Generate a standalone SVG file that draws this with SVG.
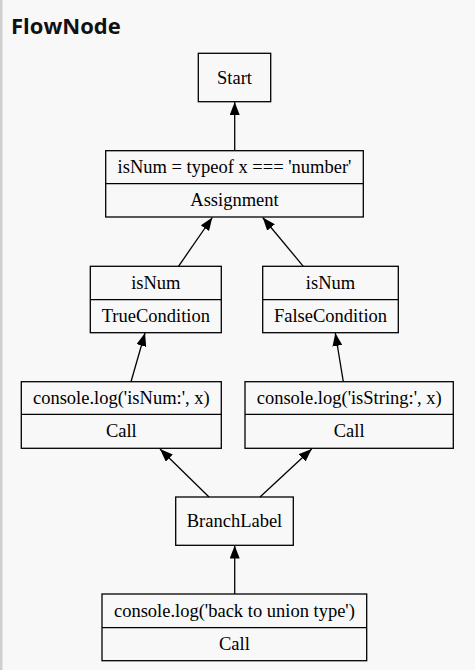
<svg xmlns="http://www.w3.org/2000/svg" width="475" height="670" viewBox="0 0 475 670">
<style>
.bg{fill:#f8f8f8}
.node rect{fill:none;stroke:#000;stroke-width:1.3}
.node line{stroke:#000;stroke-width:1.3}
.node text{font-family:"Liberation Serif","Times New Roman",serif;font-size:18.5px;fill:#000;text-anchor:middle}
.title{font-family:"Open Sans","Noto Sans",sans-serif;font-weight:bold;font-size:22px;fill:#111}
#edges line{stroke:#000;stroke-width:1.3;marker-end:url(#ah)}
</style>
<defs>
<marker id="ah" markerUnits="userSpaceOnUse" markerWidth="14" markerHeight="10" refX="13" refY="5" orient="auto">
<path d="M0,0 L13,5 L0,10 Z" fill="#000"/>
</marker>
</defs>
<rect class="bg" x="0" y="0" width="475" height="670"/>
<rect x="0" y="0" width="2.5" height="670" fill="#cfcfcf"/>
<text class="title" x="11" y="34">FlowNode</text>

<g id="edges">
<line x1="234.7" y1="150.7" x2="234.7" y2="102"/>
<line x1="178.5" y1="266.3" x2="212.3" y2="217.5"/>
<line x1="303.3" y1="266.3" x2="262.7" y2="217.5"/>
<line x1="131" y1="381.7" x2="145" y2="333"/>
<line x1="343.3" y1="381.7" x2="335.3" y2="333"/>
<line x1="209" y1="497" x2="160" y2="449"/>
<line x1="260" y1="497" x2="311.7" y2="449"/>
<line x1="234.7" y1="594" x2="234.7" y2="545.5"/>
</g>

<g id="start" class="node">
<rect x="198.3" y="53.3" width="72.4" height="48.4"/>
<text x="234.5" y="83.5">Start</text>
</g>

<g id="assignment" class="node">
<rect x="105.7" y="150.7" width="257.6" height="66.3"/>
<line x1="105.7" y1="183.7" x2="363.3" y2="183.7"/>
<text x="234.5" y="173.3">isNum = typeof x === 'number'</text>
<text x="234.5" y="206">Assignment</text>
</g>

<g id="trueCondition" class="node">
<rect x="90.3" y="266.3" width="131" height="66.4"/>
<line x1="90.3" y1="299.7" x2="221.3" y2="299.7"/>
<text x="155.8" y="289">isNum</text>
<text x="155.8" y="322">TrueCondition</text>
</g>

<g id="falseCondition" class="node">
<rect x="262.7" y="266.3" width="135.6" height="66.4"/>
<line x1="262.7" y1="299.7" x2="398.3" y2="299.7"/>
<text x="330.5" y="289">isNum</text>
<text x="330.5" y="322">FalseCondition</text>
</g>

<g id="callNum" class="node">
<rect x="21.3" y="381.7" width="200" height="66.6"/>
<line x1="21.3" y1="414.3" x2="221.3" y2="414.3"/>
<text x="121.3" y="404">console.log('isNum:', x)</text>
<text x="121.3" y="437">Call</text>
</g>

<g id="callString" class="node">
<rect x="245" y="381.7" width="208.3" height="66.6"/>
<line x1="245" y1="414.3" x2="453.3" y2="414.3"/>
<text x="349.2" y="404">console.log('isString:', x)</text>
<text x="349.2" y="437">Call</text>
</g>

<g id="branchLabel" class="node">
<rect x="175.7" y="497" width="117.6" height="48.3"/>
<text x="234.5" y="527">BranchLabel</text>
</g>

<g id="callBack" class="node">
<rect x="102" y="594" width="264.7" height="66.7"/>
<line x1="102" y1="627.7" x2="366.7" y2="627.7"/>
<text x="234.4" y="617">console.log('back to union type')</text>
<text x="234.4" y="650">Call</text>
</g>
</svg>
